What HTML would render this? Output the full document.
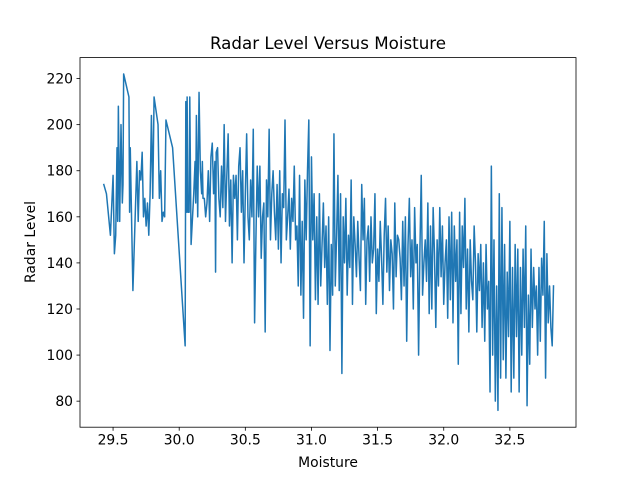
<!DOCTYPE html>
<html><head><meta charset="utf-8"><style>
html,body{margin:0;padding:0;background:#fff;}
svg{display:block;font-family:"DejaVu Sans","Liberation Sans",sans-serif;}
</style></head><body>
<svg id="chart" width="640" height="480" viewBox="0 0 640 480">
<rect width="640" height="480" fill="#fff"/>
<text x="328" y="49" font-size="16.7" text-anchor="middle">Radar Level Versus Moisture</text>
<text x="328" y="467" font-size="13.9" text-anchor="middle">Moisture</text>
<text transform="translate(35,242) rotate(-90)" font-size="13.9" text-anchor="middle">Radar Level</text>
<g id="plot"></g>
</svg>
<script>
const moisture=[29.43,29.45,29.48,29.50,29.51,29.52,29.53,29.535,29.54,29.55,29.56,29.57,29.575,29.58,29.62,29.625,29.63,29.65,29.68,29.69,29.70,29.71,29.72,29.73,29.74,29.75,29.76,29.77,29.78,29.79,29.80,29.81,29.84,29.85,29.86,29.87,29.88,29.89,29.90,29.95,30.045,30.05,30.055,30.06,30.065,30.075,30.08,30.09,30.11,30.12,30.125,30.13,30.14,30.15,30.16,30.17,30.175,30.18,30.19,30.20,30.21,30.22,30.23,30.24,30.25,30.26,30.27,30.275,30.28,30.29,30.30,30.31,30.32,30.33,30.34,
30.35,30.36,30.37,30.38,30.39,30.40,30.41,30.42,30.43,30.44,30.45,30.46,30.47,30.48,30.49,30.50,30.51,30.52,30.53,30.54,30.55,30.56,30.57,30.58,30.59,30.60,30.61,30.62,30.63,30.64,30.65,30.66,30.67,30.68,30.69,30.70,30.71,30.72,30.73,30.74,30.75,30.76,30.77,30.78,30.79,30.80,30.81,30.82,30.83,30.84,30.85,30.86,30.87,30.88,30.89,30.90,30.91,30.92,30.93,30.94,30.95,30.96,30.97,30.98,30.99,31.00,31.01,31.02,31.03,31.04,31.05,31.06,31.07,31.08,31.09,31.10,31.11,31.12,31.13,31.14,31.15,31.16,31.17,31.18,31.19,31.20,31.21,31.22,31.23,31.24,31.25,31.26,31.27,31.28,31.29,31.30,31.31,31.32,31.33,31.34,31.35,31.36,31.37,31.38,31.39,31.40,31.41,31.42,31.43,31.44,31.45,31.46,31.47,31.48,31.49,31.50,31.51,31.52,31.53,31.54,31.55,31.56,31.57,31.58,31.59,31.60,31.61,31.62,31.63,31.64,31.65,31.66,31.67,31.68,31.69,31.70,31.71,31.72,31.73,31.74,31.75,31.76,31.77,31.78,31.79,31.80,31.81,31.82,31.83,31.84,31.85,31.86,31.87,31.88,31.89,31.90,31.91,31.92,31.93,31.94,31.95,31.96,31.97,31.98,31.99,32.00,32.01,32.02,32.03,32.04,32.05,32.06,32.07,32.08,32.09,32.10,32.11,32.12,32.13,32.14,32.15,32.16,32.17,32.18,32.19,32.20,32.21,32.22,32.23,32.24,32.25,32.26,32.27,32.28,32.29,32.30,32.31,32.32,32.33,32.34,32.35,32.36,32.37,32.38,32.39,32.40,32.41,32.42,32.43,32.44,32.45,32.46,32.47,32.48,32.49,32.50,32.51,32.52,32.53,32.54,32.55,32.56,32.57,32.58,32.59,32.60,32.61,32.62,32.63,32.64,32.65,32.66,32.67,32.68,32.69,32.70,32.71,32.72,32.73,32.74,32.75,32.76,32.77,32.78,32.79,32.80,32.81,32.82,32.83];
const radar=[174,170,152,178,144,152,190,158,208,158,200,166,174,222,212,162,190,128,184,158,180,176,188,160,168,156,166,152,170,204,168,212,200,168,180,158,162,160,202,190,104,210,162,212,162,162,212,148,170,184,166,204,160,214,180,170,184,168,168,160,166,180,158,186,192,170,184,136,188,190,168,160,182,164,200,
158,178,196,156,176,140,178,168,178,150,182,190,162,180,140,170,196,160,150,176,160,198,114,150,182,160,182,142,160,166,110,176,160,198,150,170,180,162,150,174,146,180,140,170,164,202,150,160,172,146,168,158,182,150,156,130,178,126,158,116,176,150,180,202,104,186,150,170,124,160,122,170,130,148,166,138,156,122,160,102,148,126,196,130,152,178,128,170,92,160,140,168,126,152,138,176,122,160,148,134,158,142,128,174,150,168,122,150,156,132,160,140,146,170,118,146,132,158,142,122,152,168,136,156,128,150,144,120,166,134,152,150,142,124,158,130,160,106,148,168,134,150,120,164,140,148,100,146,178,126,140,150,132,166,118,156,120,164,144,112,150,130,164,134,156,122,140,150,116,160,124,162,114,156,132,150,96,162,118,156,138,168,120,146,110,150,132,124,156,140,110,144,128,148,112,140,106,148,120,132,84,182,100,150,80,130,76,170,90,164,98,148,90,136,108,158,84,138,90,148,108,146,84,138,100,146,112,156,78,126,96,146,112,138,120,130,100,138,106,142,126,158,90,144,114,130,112,104,130];
const xTicks=[29.5,30.0,30.5,31.0,31.5,32.0,32.5];
const xTickLabels=["29.5","30.0","30.5","31.0","31.5","32.0","32.5"];
const yTicks=[80,100,120,140,160,180,200,220];
const yTickLabels=["80","100","120","140","160","180","200","220"];

const L=80,R=576,T=57.6,B=427.2;
const xMin=29.25,xMax=33.0,yMin=68.7,yMax=229.1;
const sx=v=>L+(v-xMin)/(xMax-xMin)*(R-L);
const sy=v=>B-(v-yMin)/(yMax-yMin)*(B-T);
const NS="http://www.w3.org/2000/svg";
const g=document.getElementById('plot');
function mk(tag,attrs){const e=document.createElementNS(NS,tag);for(const k in attrs)e.setAttribute(k,attrs[k]);g.appendChild(e);return e;}

let d="";
for(let i=0;i<moisture.length;i++){d+=(i?"L":"M")+sx(moisture[i]).toFixed(2)+","+sy(radar[i]).toFixed(2);}
const line=mk('path',{d:d,fill:'none',stroke:'#1f77b4','stroke-width':1.5,'stroke-linejoin':'round','stroke-linecap':'square'});



const frame=mk('rect',{x:L,y:T,width:R-L,height:B-T,fill:'none',stroke:'#000','stroke-width':0.8});



xTicks.forEach((v,i)=>{
  const x=sx(v);
  const t=mk('line',{x1:x,x2:x,y1:B,y2:B+3.5,stroke:'#000','stroke-width':0.8});
  
  
  const lb=mk('text',{x:x,y:B+17.5,'font-size':13.9,'text-anchor':'middle'});
  lb.textContent=xTickLabels[i];
  
  
});
yTicks.forEach((v,i)=>{
  const y=sy(v);
  const t=mk('line',{x1:L-3.5,x2:L,y1:y,y2:y,stroke:'#000','stroke-width':0.8});
  
  
  const lb=mk('text',{x:L-7,y:y+5,'font-size':13.9,'text-anchor':'end'});
  lb.textContent=yTickLabels[i];
  
  
});
</script>
</body></html>
